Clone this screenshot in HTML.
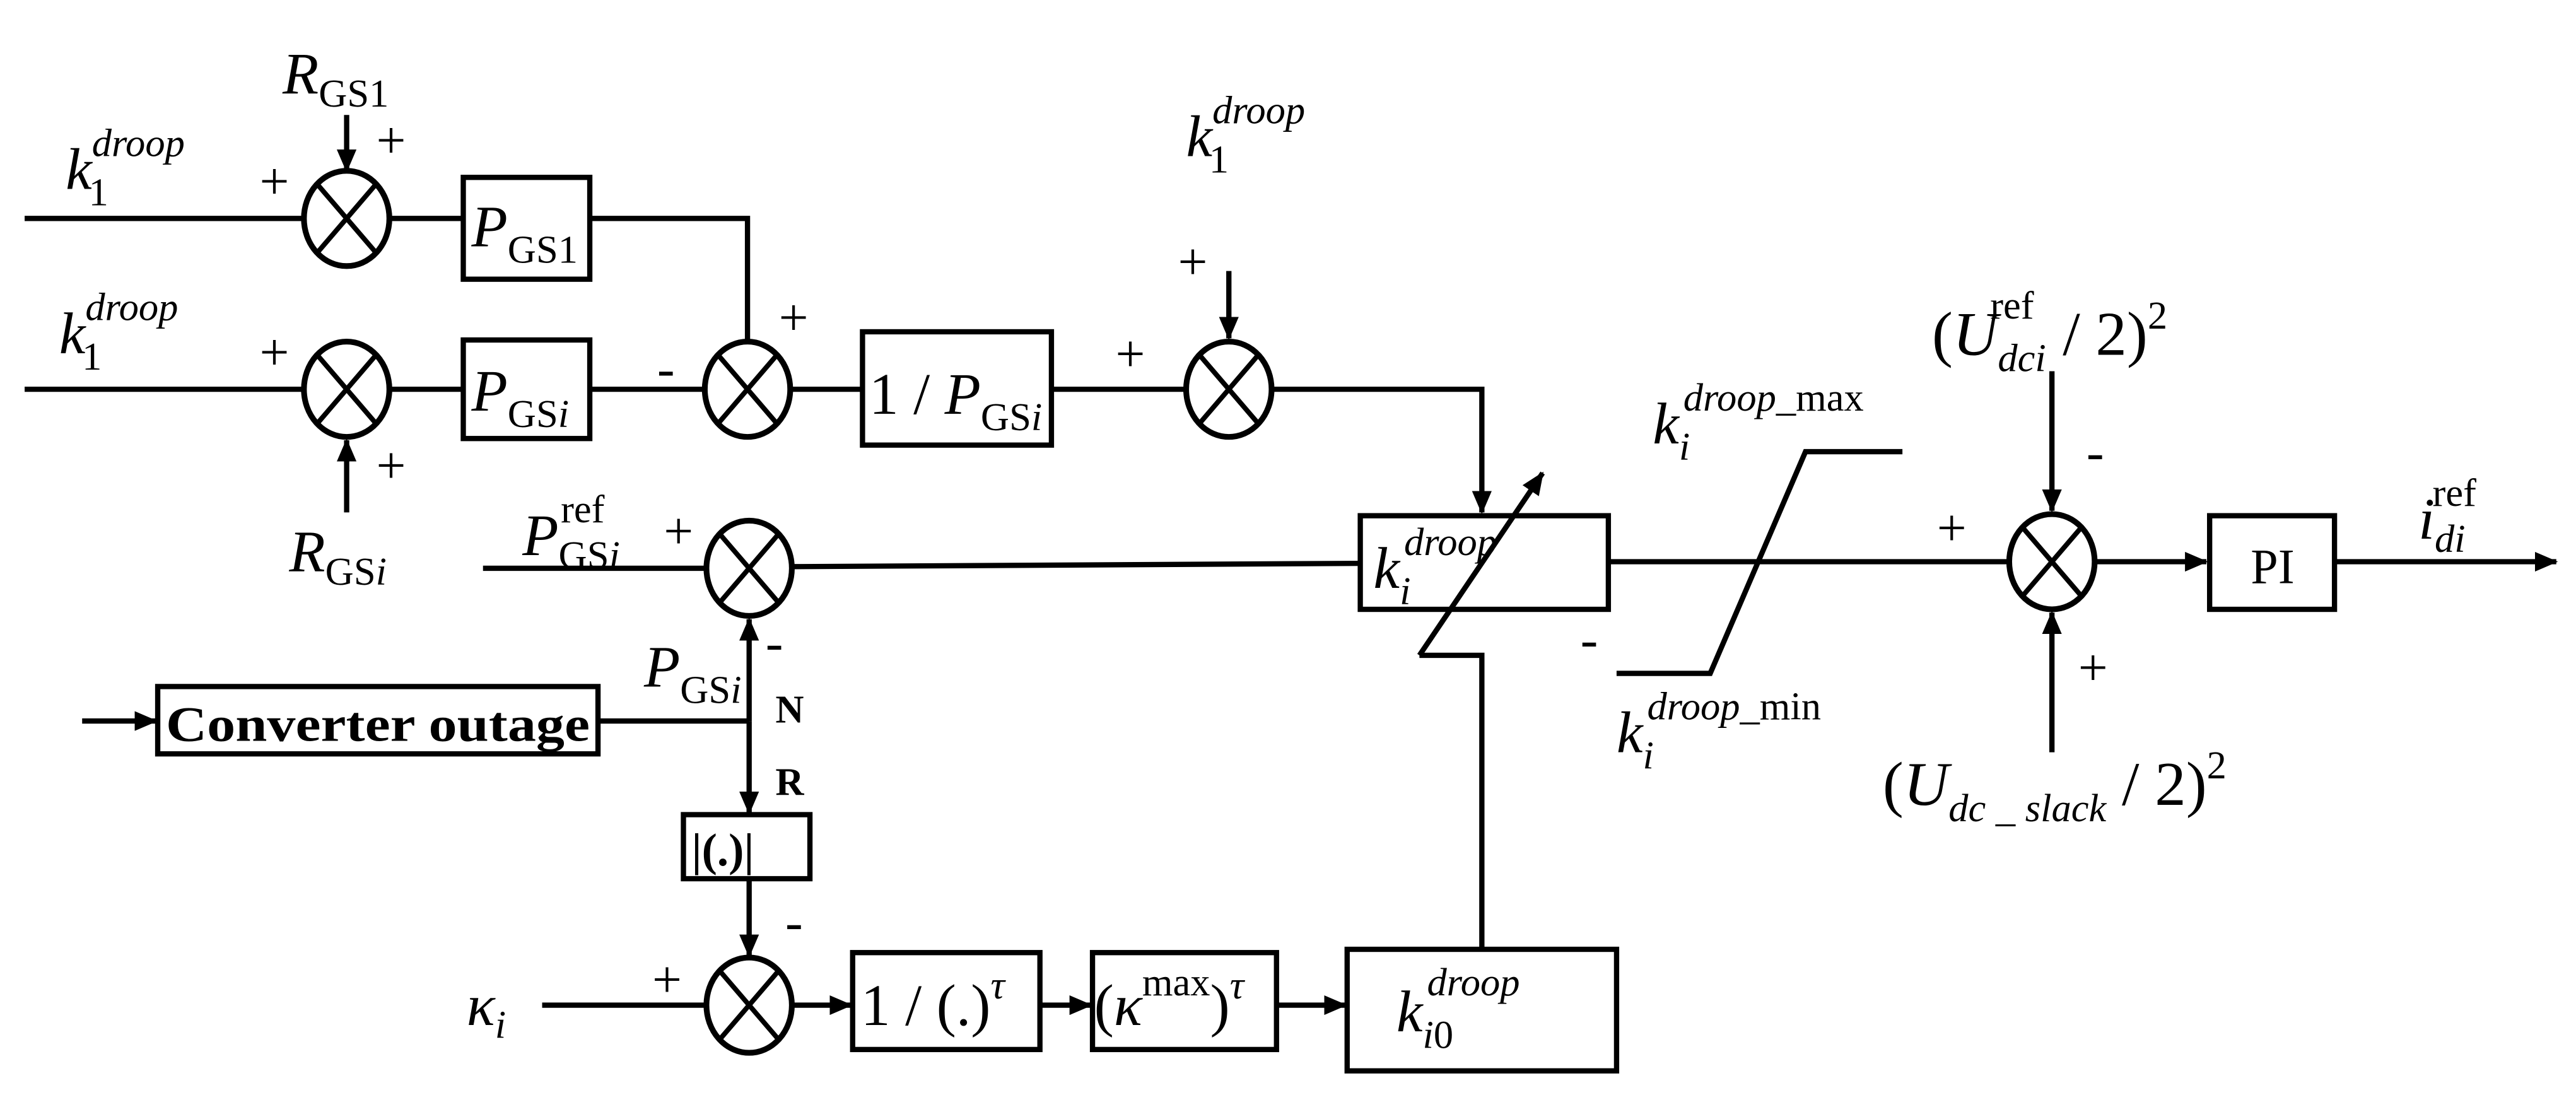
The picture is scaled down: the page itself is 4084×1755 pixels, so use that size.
<!DOCTYPE html>
<html><head><meta charset="utf-8"><style>
html,body{margin:0;padding:0;background:#fff;}
svg{display:block;}
text{font-family:"Liberation Serif",serif;fill:#000;}
.i{font-style:italic;}
.b{font-weight:bold;}
</style></head><body>
<svg width="4084" height="1755" viewBox="0 0 1568 674" preserveAspectRatio="none" xmlns="http://www.w3.org/2000/svg">
<defs>
<marker id="a" markerWidth="14" markerHeight="12" refX="13" refY="6" orient="auto" markerUnits="userSpaceOnUse" viewBox="0 0 14 12">
<path d="M0,0 L14,6 L0,12 z" fill="#000"/></marker>
<g id="sum"><ellipse cx="0" cy="0" rx="26" ry="29" fill="#fff" stroke="#000" stroke-width="3.5"/>
<line x1="-18" y1="-21" x2="18" y2="21" stroke="#000" stroke-width="3"/>
<line x1="18" y1="-21" x2="-18" y2="21" stroke="#000" stroke-width="3"/></g>
</defs>
<g stroke="#000" stroke-width="3.2" fill="none">
<line x1="15" y1="133" x2="185" y2="133"/>
<line x1="237" y1="133" x2="282" y2="133"/>
<rect x="282" y="108" width="77" height="62"/>
<polyline points="359,133 455,133 455,208"/>
<line x1="211" y1="70" x2="211" y2="104" marker-end="url(#a)"/>
<line x1="15" y1="237" x2="185" y2="237"/>
<line x1="237" y1="237" x2="282" y2="237"/>
<rect x="282" y="207" width="77" height="60"/>
<line x1="359" y1="237" x2="429" y2="237"/>
<line x1="481" y1="237" x2="525" y2="237"/>
<rect x="525" y="202" width="115" height="69"/>
<line x1="640" y1="237" x2="722" y2="237"/>
<line x1="211" y1="312" x2="211" y2="268" marker-end="url(#a)"/>
<line x1="748" y1="165" x2="748" y2="206" marker-end="url(#a)"/>
<polyline points="774,237 902,237 902,312" marker-end="url(#a)"/>
<rect x="828" y="314" width="151" height="57"/>
<line x1="864" y1="399" x2="939" y2="288" marker-end="url(#a)"/>
<polyline points="864,399 902,399 902,578"/>
<line x1="294" y1="346" x2="430" y2="346"/>
<line x1="482" y1="345" x2="828" y2="343"/>
<line x1="979" y1="342" x2="1222" y2="342"/>
<polyline points="984,410 1041,410 1099,275 1158,275"/>
<line x1="1276" y1="342" x2="1343" y2="342" marker-end="url(#a)"/>
<rect x="1345" y="314" width="76" height="57"/>
<line x1="1421" y1="342" x2="1556" y2="342" marker-end="url(#a)"/>
<line x1="1249" y1="226" x2="1249" y2="311" marker-end="url(#a)"/>
<line x1="1249" y1="458" x2="1249" y2="373" marker-end="url(#a)"/>
<line x1="50" y1="439" x2="95" y2="439" marker-end="url(#a)"/>
<rect x="96" y="418" width="268" height="41"/>
<line x1="364" y1="439" x2="456" y2="439"/>
<line x1="456" y1="439" x2="456" y2="377" marker-end="url(#a)"/>
<line x1="456" y1="439" x2="456" y2="495" marker-end="url(#a)"/>
<rect x="416" y="496" width="77" height="39"/>
<line x1="456" y1="535" x2="456" y2="582" marker-end="url(#a)"/>
<line x1="330" y1="612" x2="430" y2="612"/>
<line x1="482" y1="612" x2="518" y2="612" marker-end="url(#a)"/>
<rect x="519" y="580" width="114" height="59"/>
<line x1="633" y1="612" x2="664" y2="612" marker-end="url(#a)"/>
<rect x="665" y="580" width="112" height="59"/>
<line x1="777" y1="612" x2="819" y2="612" marker-end="url(#a)"/>
<rect x="820" y="578" width="164" height="74"/>
</g>
<use href="#sum" x="211" y="133"/>
<use href="#sum" x="211" y="237"/>
<use href="#sum" x="455" y="237"/>
<use href="#sum" x="748" y="237"/>
<use href="#sum" x="456" y="346"/>
<use href="#sum" x="1249" y="342"/>
<use href="#sum" x="456" y="612"/>
<g font-size="36">
<text x="40" y="115" class="i">k<tspan font-size="24" dx="-2" dy="10" font-style="normal">1</tspan><tspan font-size="24" dx="-10" dy="-30">droop</tspan></text>
<text x="36" y="215" class="i">k<tspan font-size="24" dx="-2" dy="10" font-style="normal">1</tspan><tspan font-size="24" dx="-10" dy="-30">droop</tspan></text>
<text x="722" y="95" class="i">k<tspan font-size="24" dx="-2" dy="10" font-style="normal">1</tspan><tspan font-size="24" dx="-10" dy="-30">droop</tspan></text>
<text x="172" y="57" class="i">R<tspan font-size="24" dy="8" font-style="normal">GS1</tspan></text>
<text x="176" y="348" class="i">R<tspan font-size="24" dy="8" font-style="normal">GS<tspan font-style="italic">i</tspan></tspan></text>
<text x="287" y="150" class="i">P<tspan font-size="24" dy="10" font-style="normal">GS1</tspan></text>
<text x="287" y="250" class="i">P<tspan font-size="24" dy="10" font-style="normal">GS<tspan font-style="italic">i</tspan></tspan></text>
<text x="529" y="252">1 / <tspan class="i">P</tspan><tspan font-size="24" dy="10">GS<tspan font-style="italic">i</tspan></tspan></text>
<text x="318" y="338" class="i">P<tspan font-size="24" dy="8" font-style="normal">GS<tspan font-style="italic">i</tspan></tspan><tspan font-size="24" dx="-36" dy="-28" font-style="normal">ref</tspan></text>
<text x="392" y="418" class="i">P<tspan font-size="24" dy="10" font-style="normal">GS<tspan font-style="italic">i</tspan></tspan></text>
<text x="836" y="358" class="i">k<tspan font-size="24" dy="10">i</tspan><tspan font-size="24" dx="-4" dy="-30">droop</tspan></text>
<text x="1006" y="270" class="i">k<tspan font-size="24" dy="10">i</tspan><tspan font-size="24" dx="-4" dy="-30">droop</tspan><tspan font-size="24" font-style="normal">_max</tspan></text>
<text x="984" y="458" class="i">k<tspan font-size="24" dy="10">i</tspan><tspan font-size="24" dx="-4" dy="-30">droop</tspan><tspan font-size="24" font-style="normal">_min</tspan></text>
<text x="1176" y="216" font-size="38">(<tspan class="i">U</tspan><tspan font-size="24" class="i" dy="10">dci</tspan><tspan font-size="24" dx="-34" dy="-32">ref</tspan><tspan dx="8" dy="22"> / 2)</tspan><tspan font-size="24" dy="-16">2</tspan></text>
<text x="1146" y="490" font-size="38">(<tspan class="i">U</tspan><tspan font-size="24" class="i" dy="10">dc _ slack</tspan><tspan dy="-10"> / 2)</tspan><tspan font-size="24" dy="-16">2</tspan></text>
<text x="1472" y="328" class="i">i<tspan font-size="24" dy="8">di</tspan><tspan font-size="24" dx="-20" dy="-28" font-style="normal">ref</tspan></text>
<text x="1370" y="355" font-size="30">PI</text>
<text x="101" y="451" font-size="30" class="b" textLength="258" lengthAdjust="spacingAndGlyphs">Converter outage</text>
<text x="472" y="440" font-size="24" class="b">N</text>
<text x="472" y="484" font-size="24" class="b">R</text>
<text x="421" y="527" font-size="28" class="b">|(.)|</text>
<text x="284" y="624" class="i">κ<tspan font-size="24" dy="8">i</tspan></text>
<text x="524" y="624">1 / (.)<tspan font-size="24" class="i" dy="-16">τ</tspan></text>
<text x="666" y="624">(<tspan class="i">κ</tspan><tspan font-size="24" dy="-18">max</tspan><tspan dy="18">)</tspan><tspan font-size="24" class="i" dy="-16">τ</tspan></text>
<text x="850" y="628" class="i">k<tspan font-size="24" dy="10">i</tspan><tspan font-size="24" font-style="normal">0</tspan><tspan font-size="24" dx="-16" dy="-32">droop</tspan></text>
</g>
<g font-size="32">
<text x="229" y="96">+</text>
<text x="158" y="121">+</text>
<text x="158" y="225">+</text>
<text x="229" y="294">+</text>
<text x="400" y="235">-</text>
<text x="474" y="204">+</text>
<text x="679" y="226">+</text>
<text x="717" y="170">+</text>
<text x="404" y="334">+</text>
<text x="466" y="402">-</text>
<text x="478" y="572">-</text>
<text x="397" y="607">+</text>
<text x="962" y="400">-</text>
<text x="1179" y="332">+</text>
<text x="1270" y="286">-</text>
<text x="1265" y="417">+</text>
</g>
</svg>
</body></html>
